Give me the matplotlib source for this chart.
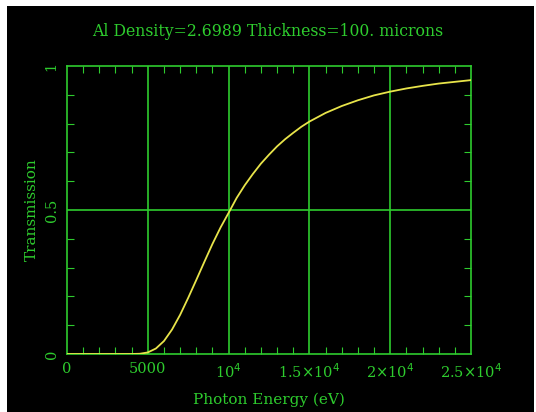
import numpy as np
import matplotlib
matplotlib.use("Agg")
import matplotlib.pyplot as plt
from matplotlib.patches import Rectangle
from matplotlib.ticker import MultipleLocator

# photon energy (eV) and transmission
energy = [0, 1000, 2000, 3000, 4000, 4500, 5000, 5500, 6000, 6500, 7000, 7500,
          8000, 8500, 9000, 9500, 10000, 10500, 11000, 11500, 12000, 12500,
          13000, 13500, 14000, 14500, 15000, 16000, 17000, 18000, 19000, 20000,
          21000, 22000, 23000, 24000, 25000]
trans = [0, 0, 0, 0, 0.0001, 0.0008, 0.0054, 0.019, 0.045, 0.085, 0.136, 0.195,
         0.257, 0.320, 0.382, 0.439, 0.49, 0.542, 0.586, 0.625, 0.661, 0.692,
         0.721, 0.746, 0.768, 0.789, 0.807, 0.837, 0.861, 0.881, 0.898, 0.911,
         0.922, 0.931, 0.939, 0.945, 0.951]

xticks = [0, 5000, 10000, 15000, 20000, 25000]
xlabels = ["0", "5000", r"10$^4$", r"1.5$\times$10$^4$", r"2$\times$10$^4$", r"2.5$\times$10$^4$"]
yticks = [0, 0.5, 1]
ylabels = ["0", "0.5", "1"]

green = "#2ecc2e"
W, H = 536, 412
fig = plt.figure(figsize=(W / 100, H / 100), dpi=100, facecolor="white")
fig.patches.append(Rectangle((7 / W, 0), (534 - 7) / W, (412 - 6) / H,
                             transform=fig.transFigure, facecolor="black",
                             edgecolor="none", zorder=-10))

ax = fig.add_axes([67 / W, 1 - 354 / H, (471 - 67) / W, (354 - 66) / H])
ax.set_facecolor("black")
ax.plot(energy, trans, color="#e8e44a", lw=1.3, zorder=3)

ax.set_xlim(0, 25000)
ax.set_ylim(0, 1)
ax.set_xticks(xticks)
ax.set_xticklabels(xlabels)
ax.set_yticks(yticks)
ax.set_yticklabels(ylabels, rotation=90, va="center")
ax.xaxis.set_minor_locator(MultipleLocator(1000))
ax.yaxis.set_minor_locator(MultipleLocator(0.1))

for v in [5000, 10000, 15000, 20000]:
    ax.axvline(v, color=green, lw=1.2, zorder=2)
ax.axhline(0.5, color=green, lw=1.2, zorder=2)

for s in ax.spines.values():
    s.set_color(green)
    s.set_linewidth(1.2)

ax.tick_params(which="both", direction="in", top=True, right=True,
               color=green, labelcolor=green, labelsize=10.5)
ax.tick_params(which="major", length=0, pad=6)
ax.tick_params(which="minor", length=5, width=0.8)
for lab in ax.get_xticklabels() + ax.get_yticklabels():
    lab.set_family("DejaVu Serif")

ax.set_xlabel("Photon Energy (eV)", color=green, family="DejaVu Serif",
              fontsize=11, labelpad=8)
ax.set_ylabel("Transmission", color=green, family="DejaVu Serif",
              fontsize=11, labelpad=4)
fig.text(268 / W, 1 - 31 / H, "Al Density=2.6989 Thickness=100. microns",
         color=green, family="DejaVu Serif", fontsize=11.3, ha="center", va="center")

fig.savefig("out.png", dpi=100, facecolor="white")
